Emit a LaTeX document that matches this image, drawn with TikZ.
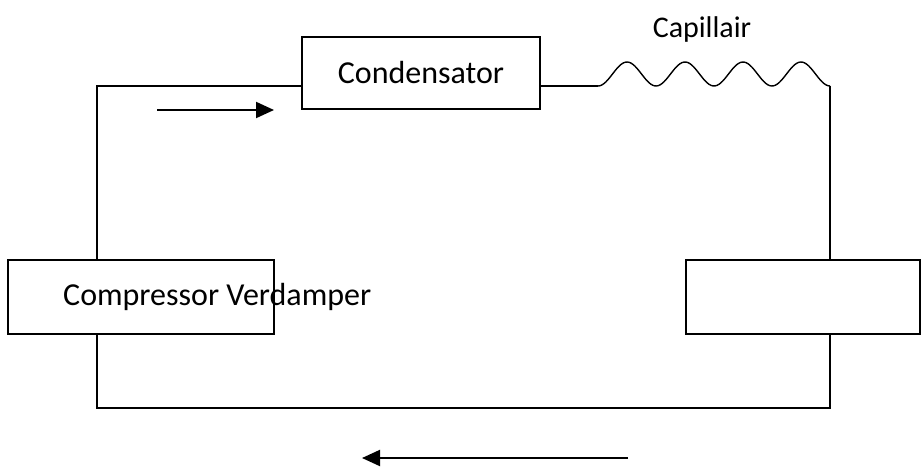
\documentclass[tikz,border=0pt]{standalone}
\usepackage{fontspec}
\setmainfont{Carlito}
\usetikzlibrary{positioning,arrows.meta}

\begin{document}
\begin{tikzpicture}[x=1pt, y=-1pt, b/.style={draw, line width=1.4pt, inner sep=0pt}, w/.style={line width=1.4pt}, a/.style={line width=2pt, -{Triangle[length=18pt, width=16pt]}}]
	\useasboundingbox (0,0) rectangle (923,476);
	\node[b, minimum width=238pt, minimum height=72pt] (Cond) at (421,73) {};
	\node[font=\fontsize{32}{36}\selectfont] (Cond_label) at (421,73) {Condensator};
	\node[b, minimum width=266pt, minimum height=74pt] (Comp) at (141,297) {};
	\node[b, minimum width=234pt, minimum height=74pt] (Verd) at (803,297) {};
	\node[font=\fontsize{32}{36}\selectfont, anchor=west, inner sep=0pt] (Comp_label) at (63,297) {Compressor Verdamper};
	\node[font=\fontsize{30}{34}\selectfont] (Cap_label) at (702,30) {Capillair};

	\coordinate (TL) at (97,86);
	\coordinate (BL) at (97,408);
	\coordinate (BR) at (830,408);
	\coordinate (TR) at (830,86);
	\coordinate (CapL) at (598,86);

	\draw[w] (Comp.north -| TL) -- (TL) -- (Cond.west |- TL);
	\draw[w] (Cond.east |- CapL) -- (CapL);
	\draw[w] plot[domain=0:232, samples=120] ({598+\x}, {74+12*cos(6.2069*\x)});
	\draw[w] (TR) -- (Verd.north -| TR);
	\draw[w] (Comp.south -| BL) -- (BL) -- (BR) -- (Verd.south -| BR);

	\coordinate (A1) at (157,110);
	\coordinate (A2) at (274,110);
	\coordinate (B1) at (628,458);
	\coordinate (B2) at (362,458);
	\draw[a] (A1) -- (A2);
	\draw[a] (B1) -- (B2);
\end{tikzpicture}
\end{document}
